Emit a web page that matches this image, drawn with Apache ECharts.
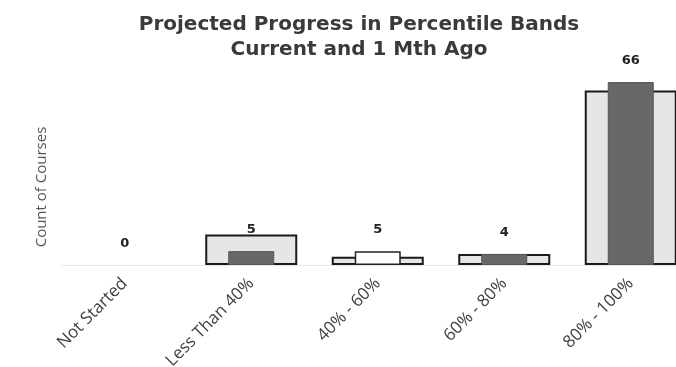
<!DOCTYPE html>
<html>
<head>
<meta charset="utf-8">
<script src="https://cdn.jsdelivr.net/npm/echarts@6/dist/echarts.min.js"></script>
<style>html,body{margin:0;padding:0;background:#fff}#c{width:676px;height:367px}</style>
</head>
<body>
<div id="c"></div>
<script>
var categories = ['Not Started', 'Less Than 40%', '40% - 60%', '60% - 80%', '80% - 100%'];
var monthAgo = [0, 11, 3, 4, 63];
var current = [0, 5, 5, 4, 66];
var titleText = 'Projected Progress in Percentile Bands\nCurrent and 1 Mth Ago';
var yName = 'Count of Courses';

var chart = echarts.init(document.getElementById('c'), null, {renderer: 'canvas'});
var monthAgoData = monthAgo.map(function (v) {
  if (v === 0) return {value: v, itemStyle: {borderWidth: 0, opacity: 0}};
  return v;
});
var currentData = current.map(function (v, i) {
  if (v === 0) return {value: v, itemStyle: {borderWidth: 0, color: 'rgba(0,0,0,0)'}};
  if (i === 2) return {value: v, itemStyle: {color: '#ffffff', borderColor: '#222', borderWidth: 1.5}};
  return v;
});
chart.setOption({
  animation: false,
  backgroundColor: '#ffffff',
  title: {
    text: titleText,
    left: 354,
    textAlign: 'center',
    top: 7,
    textStyle: {fontFamily: 'DejaVu Sans', fontWeight: 'bold', fontSize: 20, color: '#3a3a3a', lineHeight: 25}
  },
  graphic: [{
    type: 'text',
    rotation: Math.PI / 2,
    x: 42,
    y: 187,
    style: {text: yName, font: '15px "Open Sans"', fill: '#555', align: 'center', verticalAlign: 'middle'}
  }],
  grid: {left: 61.5, right: -18, top: 71, bottom: 102, containLabel: false, outerBoundsMode: 'none'},
  xAxis: [{
    type: 'category',
    data: categories,
    axisTick: {show: false},
    axisLine: {show: true, lineStyle: {color: '#e8e8e8'}},
    axisLabel: {rotate: 45, margin: 16, interval: 0, fontFamily: 'Open Sans', fontSize: 17, color: '#404040'}
  }, {
    type: 'category',
    data: categories,
    show: false
  }],
  yAxis: {type: 'value', min: 0, max: 70, show: false, splitLine: {show: false}},
  series: [{
    name: '1 Mth Ago',
    type: 'bar',
    xAxisIndex: 0,
    barWidth: 92,
    data: monthAgoData,
    itemStyle: {color: '#e6e6e6', borderColor: '#1a1a1a', borderWidth: 2}
  }, {
    name: 'Current',
    type: 'bar',
    xAxisIndex: 1,
    barWidth: 46,
    data: currentData,
    itemStyle: {color: '#686868', borderColor: '#555', borderWidth: 1},
    label: {show: true, position: 'top', distance: 15, fontFamily: 'DejaVu Sans', fontWeight: 'bold', fontSize: 13, color: '#222'}
  }]
});
</script>
</body>
</html>
